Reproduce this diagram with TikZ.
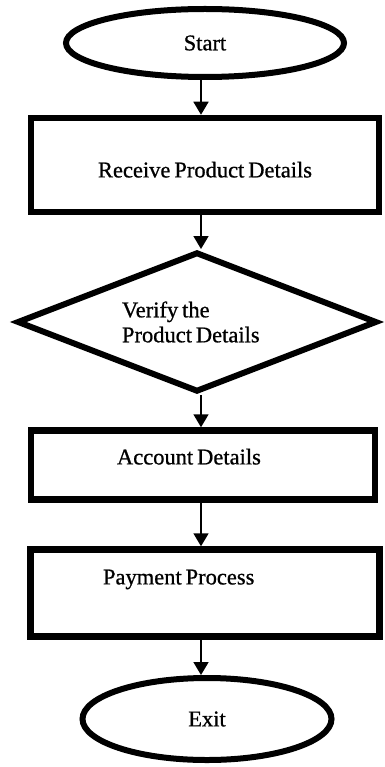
\documentclass[tikz,border=0pt]{standalone}
\usepackage{fontspec}
\setmainfont{Liberation Serif}
\newfontface\chartfont[FakeBold=0.8,WordSpace=0.7]{Liberation Serif}
\usetikzlibrary{arrows.meta,shapes.geometric}
\newcommand\chartsize{\fontsize{22.5}{25}\chartfont}
\tikzset{
  terminal/.style={draw,ellipse,line width=6pt,minimum width=278pt,minimum height=68pt,
                   font=\chartsize},
  process/.style={draw,rectangle,line width=6.5pt,font=\chartsize},
  decision/.style={draw,diamond,aspect=2.5,line width=6pt,inner sep=0pt,
                   font=\chartsize},
  arrow/.style={-{Triangle[length=13pt,width=15pt]},line width=1.8pt}
}
\begin{document}
\begin{tikzpicture}[x=1pt,y=-1pt]
\useasboundingbox (0,0) rectangle (384,767);
\coordinate (spine) at (201,0);
\node[terminal] (start) at (205,43) {Start};
\node[process,minimum width=348pt,minimum height=94pt,text height=29.7pt,text depth=4.9pt] (recv) at (205,165) {Receive Product Details};
\node[decision,minimum width=360pt,minimum height=140pt,text width=150pt,align=flush left] (verify) at (197,322) {Verify the\\Product Details};
\node[process,minimum width=344pt,minimum height=69pt,text width=172pt,align=flush left,text height=15.4pt,text depth=16.6pt] (acct) at (203,465) {Account Details};
\node[process,minimum width=349pt,minimum height=87pt,text width=204pt,align=flush left,text height=15.4pt,text depth=32.6pt] (pay) at (205,593) {Payment Process};
\node[terminal,minimum width=249pt,minimum height=82pt] (exit) at (207,719) {Exit};
\draw[arrow] (start.south -| spine) -- (recv.north -| spine);
\draw[arrow] (recv.south -| spine) -- (verify.north -| spine);
\draw[arrow] (verify.south -| spine) -- (acct.north -| spine);
\draw[arrow] (acct.south -| spine) -- (pay.north -| spine);
\draw[arrow] (pay.south -| spine) -- (exit.north -| spine);
\end{tikzpicture}
\end{document}
